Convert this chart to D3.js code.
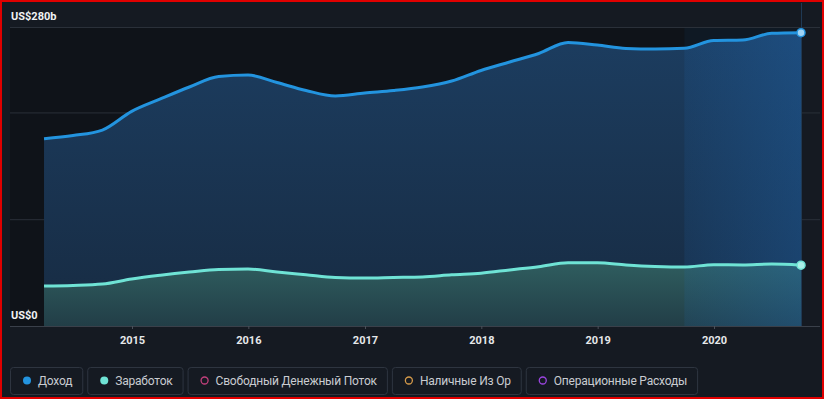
<!DOCTYPE html>
<html>
<head>
<meta charset="utf-8">
<script src="https://cdn.jsdelivr.net/npm/d3@7"></script>
<style>
  html, body { margin: 0; padding: 0; background: #151a22; }
  #chart { width: 824px; height: 399px; }
  text { font-family: Roboto, "Open Sans", sans-serif; }
</style>
</head>
<body>
<div id="chart"></div>
<script>
// quarterly points (trailing twelve months)
var dates = ["2014-03-31","2014-06-30","2014-09-30","2014-12-31",
  "2015-03-31","2015-06-30","2015-09-30","2015-12-31",
  "2016-03-31","2016-06-30","2016-09-30","2016-12-31",
  "2017-03-31","2017-06-30","2017-09-30","2017-12-31",
  "2018-03-31","2018-06-30","2018-09-30","2018-12-31",
  "2019-03-31","2019-06-30","2019-09-30","2019-12-31",
  "2020-03-31","2020-06-30","2020-09-30"];
var revenue = [175.4, 178.4, 183.5, 201, 212.6, 223.8, 233.6, 235,
  228, 220.5, 215.4, 218.2, 220.5, 223.8, 229.4, 239.3,
  247.2, 255.2, 265.5, 263.1, 259.9, 259.4, 260, 267.3,
  267.8, 274.1, 274.7];
var earnings = [37.5, 38, 39.3, 44, 47.5, 50.5, 53, 53.3,
  50.5, 48, 45.5, 45, 45.5, 46, 48, 49.5,
  52.5, 55.5, 59.3, 59.2, 57.2, 55.8, 55.2, 57.4,
  57.2, 58, 57];
var xTicks = [2015, 2016, 2017, 2018, 2019, 2020];
var gridValues = [100, 200, 280];
var yLabels = [{v: 280, t: "US$280b"}, {v: 0, t: "US$0"}];
var legendLabels = ["Доход", "Заработок", "Свободный Денежный Поток", "Наличные Из Ор", "Операционные Расходы"];
var legendColors = ["#2394df", "#6fe3d5", "#c2407c", "#d49a4a", "#9b45e0"];
var legendFilled = [true, true, false, false, false];

var W = 824, H = 399;
var parse = d3.timeParse("%Y-%m-%d");
var data = dates.map(function(d, i) {
  return {date: parse(d), rev: revenue[i], earn: earnings[i]};
});

var svg = d3.select("#chart").append("svg")
  .attr("width", W).attr("height", H);

var x = d3.scaleTime()
  .domain([new Date(2015, 0, 1), new Date(2020, 0, 1)])
  .range([132, 714]);
var y = d3.scaleLinear().domain([0, 280]).range([326, 27]);

var x1 = x(data[data.length - 1].date);

var defs = svg.append("defs");
var g1 = defs.append("linearGradient").attr("id", "gRev")
  .attr("x1", 0).attr("y1", 0).attr("x2", 0).attr("y2", 1);
g1.append("stop").attr("offset", "0%").attr("stop-color", "#1c3d60");
g1.append("stop").attr("offset", "100%").attr("stop-color", "#172b42");
var g2 = defs.append("linearGradient").attr("id", "gEarn")
  .attr("x1", 0).attr("y1", 0).attr("x2", 0).attr("y2", 1);
g2.append("stop").attr("offset", "0%").attr("stop-color", "#2f5d5f");
g2.append("stop").attr("offset", "100%").attr("stop-color", "#223e47");
var g3 = defs.append("linearGradient").attr("id", "gBand")
  .attr("x1", 0).attr("y1", 0).attr("x2", 1).attr("y2", 0);
g3.append("stop").attr("offset", "0%").attr("stop-color", "#1f6fc0").attr("stop-opacity", 0.12);
g3.append("stop").attr("offset", "100%").attr("stop-color", "#1f6fc0").attr("stop-opacity", 0.32);

// plot background
svg.append("rect").attr("x", 10).attr("y", 27).attr("width", x1 - 10).attr("height", 326 - 27)
  .attr("fill", "#0f1319");

var curve = d3.curveMonotoneX;
var areaRev = d3.area().curve(curve)
  .x(function(d) { return x(d.date); })
  .y0(y(0)).y1(function(d) { return y(d.rev); });
var areaEarn = d3.area().curve(curve)
  .x(function(d) { return x(d.date); })
  .y0(y(0)).y1(function(d) { return y(d.earn); });
var lineRev = d3.line().curve(curve)
  .x(function(d) { return x(d.date); }).y(function(d) { return y(d.rev); });
var lineEarn = d3.line().curve(curve)
  .x(function(d) { return x(d.date); }).y(function(d) { return y(d.earn); });

defs.append("clipPath").attr("id", "clipArea")
  .append("path").datum(data).attr("d", areaRev);

// last twelve months band (faint tint above the area)
var bandStart = x(data[data.length - 5].date);
svg.append("rect").attr("x", bandStart).attr("y", 27)
  .attr("width", x1 - bandStart).attr("height", 326 - 27)
  .attr("fill", "#12253a").attr("opacity", 0.35);

// gridlines
svg.selectAll(".grid").data(gridValues).enter().append("line")
  .attr("x1", 10).attr("x2", 820)
  .attr("y1", function(d) { return y(d) + 0.5; })
  .attr("y2", function(d) { return y(d) + 0.5; })
  .attr("stroke", "#2a3039").attr("stroke-width", 1);

svg.append("path").datum(data).attr("d", areaRev).attr("fill", "url(#gRev)");
svg.append("path").datum(data).attr("d", areaEarn).attr("fill", "url(#gEarn)");

svg.append("rect").attr("x", bandStart).attr("y", 27)
  .attr("width", x1 - bandStart).attr("height", 326 - 27)
  .attr("fill", "url(#gBand)").attr("clip-path", "url(#clipArea)");

svg.append("line").attr("x1", x1 + 0.5).attr("x2", x1 + 0.5)
  .attr("y1", 3).attr("y2", 326)
  .attr("stroke", "#1f3954").attr("stroke-width", 1);

svg.append("path").datum(data).attr("d", lineRev)
  .attr("fill", "none").attr("stroke", "#2394df").attr("stroke-width", 3);
svg.append("path").datum(data).attr("d", lineEarn)
  .attr("fill", "none").attr("stroke", "#6fe3d5").attr("stroke-width", 3);

var last = data[data.length - 1];
svg.append("circle").attr("cx", x(last.date)).attr("cy", y(last.rev)).attr("r", 4)
  .attr("fill", "#9fd3f4").attr("stroke", "#2394df").attr("stroke-width", 1.5);
svg.append("circle").attr("cx", x(last.date)).attr("cy", y(last.earn)).attr("r", 4)
  .attr("fill", "#aaf0e8").attr("stroke", "#6fe3d5").attr("stroke-width", 1.5);

// x axis
svg.append("line").attr("x1", 10).attr("x2", 820).attr("y1", 326.5).attr("y2", 326.5)
  .attr("stroke", "#3a404a").attr("stroke-width", 1);
var xAxis = svg.append("g").attr("transform", "translate(0,326)")
  .call(d3.axisBottom(x)
    .tickValues(xTicks.map(function(t) { return new Date(t, 0, 1); }))
    .tickFormat(d3.timeFormat("%Y")).tickSize(3).tickPadding(7));
xAxis.select(".domain").remove();
xAxis.selectAll(".tick line").attr("stroke", "#4a505a");
xAxis.selectAll("text").attr("fill", "#e6e8ea").attr("font-size", "11px").attr("font-weight", "bold");

// y labels
svg.selectAll(".ylab").data(yLabels).enter().append("text")
  .attr("x", 11).attr("y", function(d) { return y(d.v) - 7; })
  .attr("fill", "#f0f2f4").attr("font-size", "11px").attr("font-weight", "bold")
  .text(function(d) { return d.t; });

// legend
var lg = svg.append("g").attr("class", "legend");
var lx = 10;
legendLabels.forEach(function(lab, i) {
  var item = lg.append("g");
  var t = item.append("text").attr("x", lx + 28).attr("y", 385)
    .attr("fill", "#c9ccd1").attr("font-size", "12px")
    .attr("letter-spacing", "-0.2px").text(lab);
  var w = t.node().getComputedTextLength() + 28 + 10;
  item.insert("rect", "text").attr("x", lx + 0.5).attr("y", 367.5)
    .attr("width", w).attr("height", 27).attr("rx", 3)
    .attr("fill", "none").attr("stroke", "#2e3540");
  item.append("circle").attr("cx", lx + 17).attr("cy", 380.5).attr("r", legendFilled[i] ? 4 : 3.5)
    .attr("fill", legendFilled[i] ? legendColors[i] : "none")
    .attr("stroke", legendColors[i]).attr("stroke-width", legendFilled[i] ? 0 : 1.3);
  lx += w + 5;
});

// outer red frame
svg.append("rect").attr("x", 1).attr("y", 1).attr("width", W - 2).attr("height", H - 2)
  .attr("fill", "none").attr("stroke", "#e00000").attr("stroke-width", 2);
</script>
</body>
</html>
